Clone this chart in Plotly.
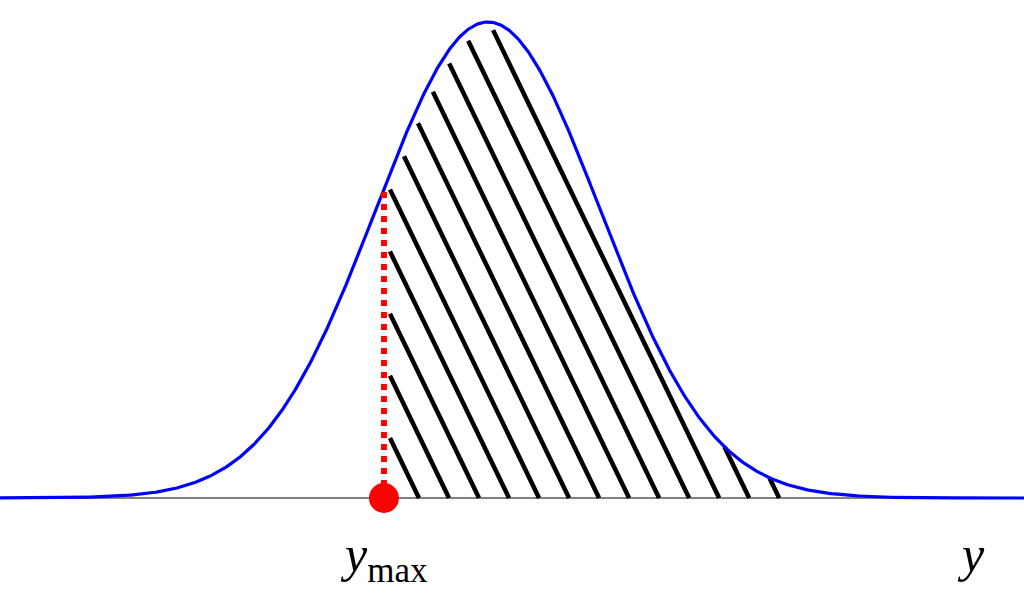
import numpy as np
import plotly.graph_objects as go

# ---- data (standardised units: mean 0, sd 1; density scaled to peak 1) ----
mu = 0.0
sigma = 1.0
x_range = [-4.357, 4.786]
y_range = [-0.2227, 1.0462]
y_max_pos = [-0.929]            # location of y_max
hatch_left = [-0.875]           # hatch starts just right of y_max
hatch_first = [-0.616]          # first hatch foot on the baseline
hatch_step = [0.268]            # spacing between hatch feet
hatch_count = [13]
hatch_slope = [0.487]           # rise per unit run (data units)
hatch_gap = [0.035]             # small gap below the curve
labels = ["<i>y</i><sub>max</sub>", "<i>y</i>"]
label_x = [-0.929, 4.31]

def f(x):
    return np.exp(-0.5 * ((x - mu) / sigma) ** 2)

xs = np.linspace(x_range[0], x_range[1], 800)
ys = f(xs)

# ---- hatch segments ----
m = hatch_slope[0]
hx, hy = [], []
for k in range(hatch_count[0]):
    xb = hatch_first[0] + k * hatch_step[0]
    grid = np.linspace(xb, hatch_left[0], 2000)
    g = f(grid) - m * (xb - grid)
    neg = np.where(g < 0)[0]
    if len(neg):
        i = neg[0]
        a, b = grid[i - 1], grid[i]
        for _ in range(50):
            c = 0.5 * (a + b)
            if f(c) - m * (xb - c) > 0:
                a = c
            else:
                b = c
        xt = 0.5 * (a + b)
        if xt <= mu + 0.5 * sigma:
            xt += hatch_gap[0]
    else:
        xt = hatch_left[0]
    hx += [xb, xt, None]
    hy += [0, m * (xb - xt), None]

fig = go.Figure()
fig.add_trace(go.Scatter(x=hx, y=hy, mode="lines",
                         line=dict(color="black", width=4.5), hoverinfo="skip"))
fig.add_trace(go.Scatter(x=xs, y=ys, mode="lines",
                         line=dict(color="#0000ff", width=3.2), hoverinfo="skip"))
ym = y_max_pos[0]
fig.add_trace(go.Scatter(x=[ym, ym], y=[0, f(ym)], mode="lines",
                         line=dict(color="#ff0000", width=6, dash="6px,6px"),
                         hoverinfo="skip"))
fig.add_trace(go.Scatter(x=[ym], y=[0], mode="markers",
                         marker=dict(color="#ff0000", size=30), hoverinfo="skip"))

fig.add_shape(type="line", xref="paper", x0=0, x1=1, yref="y", y0=0, y1=0,
              line=dict(color="#808080", width=2), layer="below")

for t, lx in zip(labels, label_x):
    fig.add_annotation(x=lx, y=-0.055, xref="x", yref="y", text=t,
                       showarrow=False, xanchor="center", yanchor="top",
                       font=dict(family="Liberation Serif", size=50, color="black"))

fig.update_layout(
    width=1024, height=604,
    margin=dict(l=0, r=0, t=0, b=0),
    paper_bgcolor="white", plot_bgcolor="white",
    showlegend=False,
    xaxis=dict(range=x_range, visible=False, fixedrange=True),
    yaxis=dict(range=y_range, visible=False, fixedrange=True),
)
fig.write_html("out.html", config={"displayModeBar": False},
               post_script="document.body.style.margin='0px';document.body.style.overflow='hidden';")
